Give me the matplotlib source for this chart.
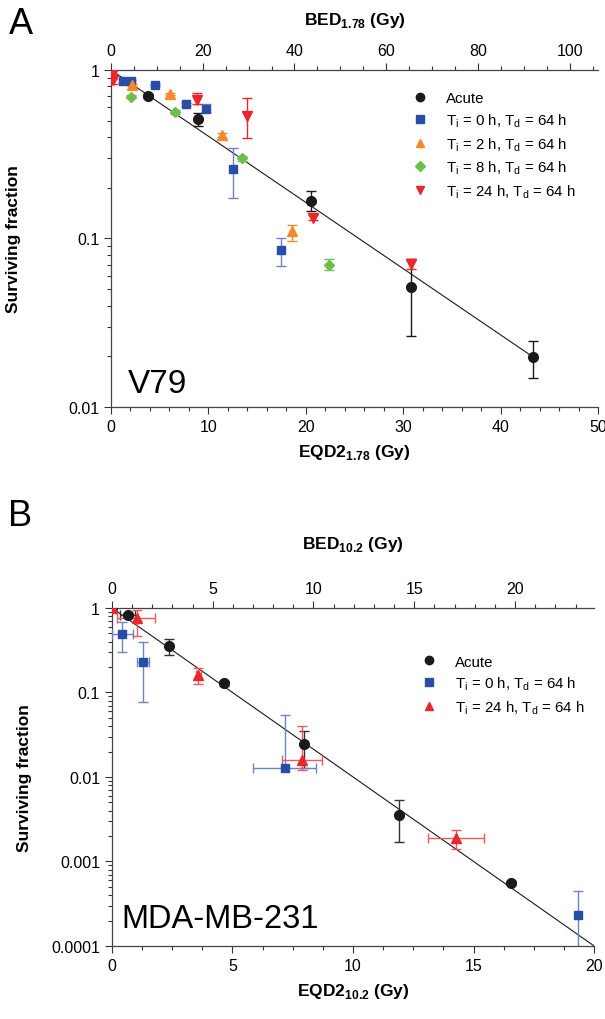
import numpy as np
import matplotlib
matplotlib.use('Agg')
import matplotlib.pyplot as plt
from matplotlib.lines import Line2D
from matplotlib.ticker import MultipleLocator, FixedLocator, LogLocator, NullFormatter, FuncFormatter

plt.rcParams['font.family'] = ['Liberation Sans', 'DejaVu Sans']
plt.rcParams['mathtext.fontset'] = 'custom'
plt.rcParams['mathtext.rm'] = 'Liberation Sans'
plt.rcParams['mathtext.bf'] = 'Liberation Sans:bold'

# ---- panel A: V79, alpha/beta = 1.78 ----
ab_a = 1.78
a_acute_x = [0, 3.8, 8.9, 20.5, 30.8, 43.3]
a_acute_y = [1.0, 0.70, 0.515, 0.166, 0.0516, 0.0198]
a_acute_hi = [1.0, 0.72, 0.556, 0.192, 0.076, 0.0248]
a_acute_lo = [1.0, 0.68, 0.468, 0.146, 0.0264, 0.0148]

a_t0_x = [0, 1.2, 2.1, 4.5, 7.7, 9.7, 12.5, 17.4]
a_t0_y = [1.0, 0.865, 0.855, 0.815, 0.628, 0.59, 0.258, 0.0855]
a_t0_hi = [1.0, 0.88, 0.87, 0.83, 0.64, 0.63, 0.345, 0.101]
a_t0_lo = [1.0, 0.85, 0.84, 0.80, 0.615, 0.56, 0.174, 0.069]

a_t2_x = [0, 2.2, 6.1, 11.4, 18.6]
a_t2_y = [1.0, 0.815, 0.72, 0.41, 0.111]
a_t2_hi = [1.0, 0.83, 0.73, 0.42, 0.121]
a_t2_lo = [1.0, 0.80, 0.71, 0.40, 0.097]

a_t8_x = [0, 2.1, 6.6, 13.4, 22.4]
a_t8_y = [1.0, 0.694, 0.563, 0.30, 0.0699]
a_t8_hi = [1.0, 0.71, 0.575, 0.31, 0.0755]
a_t8_lo = [1.0, 0.68, 0.55, 0.29, 0.065]

a_t24_x = [0, 0.1, 0.2, 8.8, 14.0, 20.75, 30.8]
a_t24_y = [1.0, 0.93, 0.87, 0.667, 0.53, 0.133, 0.0706]
a_t24_hi = [1.0, 0.98, 0.92, 0.727, 0.679, 0.137, 0.076]
a_t24_lo = [1.0, 0.89, 0.83, 0.63, 0.393, 0.129, 0.066]

a_fit_k = 0.0905      # ln(S) per Gy EQD2
a_fit_xmax = 43.3

# ---- panel B: MDA-MB-231, alpha/beta = 10.2 ----
ab_b = 10.2
b_acute_x = [0, 0.65, 2.37, 4.65, 7.97, 11.92, 16.56]
b_acute_y = [1.0, 0.826, 0.358, 0.128, 0.0246, 0.0035, 0.000559]
b_acute_hi = [1.0, 0.86, 0.43, 0.136, 0.0354, 0.0053, 0.00058]
b_acute_lo = [1.0, 0.79, 0.278, 0.12, 0.0128, 0.00168, 0.00054]
b_acute_xerr = [0, 0.3, 0.05, 0.05, 0.05, 0.05, 0.05]

b_t0_x = [0, 0.43, 1.3, 7.18, 19.32]
b_t0_y = [1.0, 0.49, 0.232, 0.0128, 0.000233]
b_t0_hi = [1.0, 0.688, 0.39, 0.054, 0.000449]
b_t0_lo = [1.0, 0.30, 0.078, 0.0127, 0.00005]
b_t0_xlo = [0, 0.43, 0.25, 1.32, 0]
b_t0_xhi = [0, 0.43, 0.25, 1.27, 0]

b_t24_x = [0, 1.02, 3.58, 7.87, 14.27]
b_t24_y = [1.0, 0.755, 0.161, 0.0159, 0.00188]
b_t24_hi = [1.0, 0.955, 0.193, 0.0398, 0.00233]
b_t24_lo = [1.0, 0.47, 0.125, 0.012, 0.00142]
b_t24_xlo = [0, 0.82, 0.1, 0.83, 1.15]
b_t24_xhi = [0, 0.76, 0.1, 0.83, 1.18]

b_fit_k = 0.4605
b_fit_xmax = 20

black = '#1a1a1a'
blue = '#2a4ea6'
blue_err = '#6f84c4'
orange = '#f5892b'
green = '#6dbf4b'
red = '#e8282c'
red_err = '#ec5a5a'


def yerr(y, hi, lo):
    y = np.array(y)
    return [y - np.array(lo), np.array(hi) - y]


def plot_series(ax, x, y, hi, lo, marker, color, ecolor, ms, xerr=None):
    ax.errorbar(x, y, yerr=yerr(y, hi, lo), xerr=xerr, fmt=marker, color=color,
                ecolor=ecolor, ms=ms, mec=color, elinewidth=1, capsize=3.5,
                capthick=1, zorder=3)


def style_axes(ax, ab, xmax, xmaj, xmin, topmaj, topmin, ymin):
    ax.set_yscale('log')
    ax.set_xlim(0, xmax)
    ax.set_ylim(ymin, 1)
    ax.spines['right'].set_visible(False)
    ax.spines['top'].set_visible(False)
    ax.xaxis.set_major_locator(MultipleLocator(xmaj))
    ax.xaxis.set_minor_locator(MultipleLocator(xmin))
    ax.yaxis.set_major_locator(LogLocator(base=10))
    ax.yaxis.set_minor_locator(LogLocator(base=10, subs=np.arange(2, 10)))
    ax.yaxis.set_minor_formatter(NullFormatter())
    ax.yaxis.set_major_formatter(FuncFormatter(lambda v, p: '%g' % v))
    ax.tick_params(which='major', length=5, width=0.8, labelsize=11.5, color='#333333')
    ax.tick_params(which='minor', length=3, width=0.8, color='#333333')
    f = 1 + 2 / ab
    top = ax.secondary_xaxis('top', functions=(lambda d: d * f, lambda b: b / f))
    tmax = xmax * f
    top.xaxis.set_major_locator(FixedLocator(np.arange(0, tmax + 1e-9, topmaj)))
    top.xaxis.set_minor_locator(FixedLocator(np.arange(0, tmax + 1e-9, topmin)))
    top.tick_params(which='major', length=5, width=0.8, labelsize=11.5, color='#333333')
    top.tick_params(which='minor', length=3, width=0.8, color='#333333')
    for sp in ['left', 'bottom']:
        ax.spines[sp].set_linewidth(0.9)
        ax.spines[sp].set_color('#444444')
    top.spines['top'].set_linewidth(0.9)
    top.spines['top'].set_color('#444444')
    return top


fig = plt.figure(figsize=(6.05, 10.2), dpi=100)

# panel A
ax1 = fig.add_axes([0.1835, 0.6, 0.805, 0.3304])
top1 = style_axes(ax1, ab_a, 50, 10, 2, 20, 5, 0.01)
xs = np.linspace(0, a_fit_xmax, 100)
ax1.plot(xs, np.exp(-a_fit_k * xs), color=black, lw=0.8, zorder=2)
plot_series(ax1, a_acute_x, a_acute_y, a_acute_hi, a_acute_lo, 'o', black, black, 7)
plot_series(ax1, a_t0_x, a_t0_y, a_t0_hi, a_t0_lo, 's', blue, blue_err, 6)
plot_series(ax1, a_t2_x, a_t2_y, a_t2_hi, a_t2_lo, '^', orange, orange, 6.5)
plot_series(ax1, a_t8_x, a_t8_y, a_t8_hi, a_t8_lo, 'D', green, green, 5.5)
plot_series(ax1, a_t24_x, a_t24_y, a_t24_hi, a_t24_lo, 'v', red, red, 7)
ax1.set_xlabel(r'EQD2$_{\mathbf{1.78}}$ (Gy)', fontsize=12.5, fontweight='bold', labelpad=6)
top1.set_xlabel(r'BED$_{\mathbf{1.78}}$ (Gy)', fontsize=12.5, fontweight='bold', labelpad=14)
ax1.set_ylabel('Surviving fraction', fontsize=12.5, fontweight='bold', labelpad=34)
ax1.text(0.035, 0.025, 'V79', transform=ax1.transAxes, fontsize=24, va='bottom', ha='left')

labels_a = ['Acute', r'T$_{\rm i}$ = 0 h, T$_{\rm d}$ = 64 h', r'T$_{\rm i}$ = 2 h, T$_{\rm d}$ = 64 h',
            r'T$_{\rm i}$ = 8 h, T$_{\rm d}$ = 64 h', r'T$_{\rm i}$ = 24 h, T$_{\rm d}$ = 64 h']
handles_a = [Line2D([], [], ls='', marker=m, color=c, ms=s)
             for m, c, s in [('o', black, 6), ('s', blue, 5.5), ('^', orange, 6), ('D', green, 5), ('v', red, 6)]]
ax1.legend(handles_a, labels_a, loc='upper left', bbox_to_anchor=(0.607, 0.955), frameon=False,
           fontsize=10.8, handlelength=1, handletextpad=1.2, labelspacing=0.4, borderaxespad=0)

# panel B
ax2 = fig.add_axes([0.185, 0.0716, 0.797, 0.3314])
top2 = style_axes(ax2, ab_b, 20, 5, 1.25, 5, 1, 0.0001)
xs = np.linspace(0, b_fit_xmax, 100)
ax2.plot(xs, np.exp(-b_fit_k * xs), color=black, lw=0.8, zorder=2)
plot_series(ax2, b_acute_x, b_acute_y, b_acute_hi, b_acute_lo, 'o', black, '#333333', 7, xerr=b_acute_xerr)
plot_series(ax2, b_t0_x, b_t0_y, b_t0_hi, b_t0_lo, 's', blue, blue_err, 6, xerr=[b_t0_xlo, b_t0_xhi])
plot_series(ax2, b_t24_x, b_t24_y, b_t24_hi, b_t24_lo, '^', red, red_err, 6.5, xerr=[b_t24_xlo, b_t24_xhi])
ax2.set_xlabel(r'EQD2$_{\mathbf{10.2}}$ (Gy)', fontsize=12.5, fontweight='bold', labelpad=6)
top2.set_xlabel(r'BED$_{\mathbf{10.2}}$ (Gy)', fontsize=12.5, fontweight='bold', labelpad=24)
ax2.set_ylabel('Surviving fraction', fontsize=12.5, fontweight='bold', labelpad=14)
ax2.text(0.02, 0.035, 'MDA-MB-231', transform=ax2.transAxes, fontsize=23.5, va='bottom', ha='left')

labels_b = ['Acute', r'T$_{\rm i}$ = 0 h, T$_{\rm d}$ = 64 h', r'T$_{\rm i}$ = 24 h, T$_{\rm d}$ = 64 h']
handles_b = [Line2D([], [], ls='', marker=m, color=c, ms=s)
             for m, c, s in [('o', black, 6), ('s', blue, 5.5), ('^', red, 6)]]
ax2.legend(handles_b, labels_b, loc='upper left', bbox_to_anchor=(0.63, 0.88), frameon=False,
           fontsize=10.8, handlelength=1, handletextpad=1.2, labelspacing=0.4, borderaxespad=0)

fig.text(0.014, 0.993, 'A', fontsize=26, va='top', ha='left')
fig.text(0.014, 0.494, 'B', fontsize=26, va='center', ha='left')

fig.savefig('out.png', dpi=100)
